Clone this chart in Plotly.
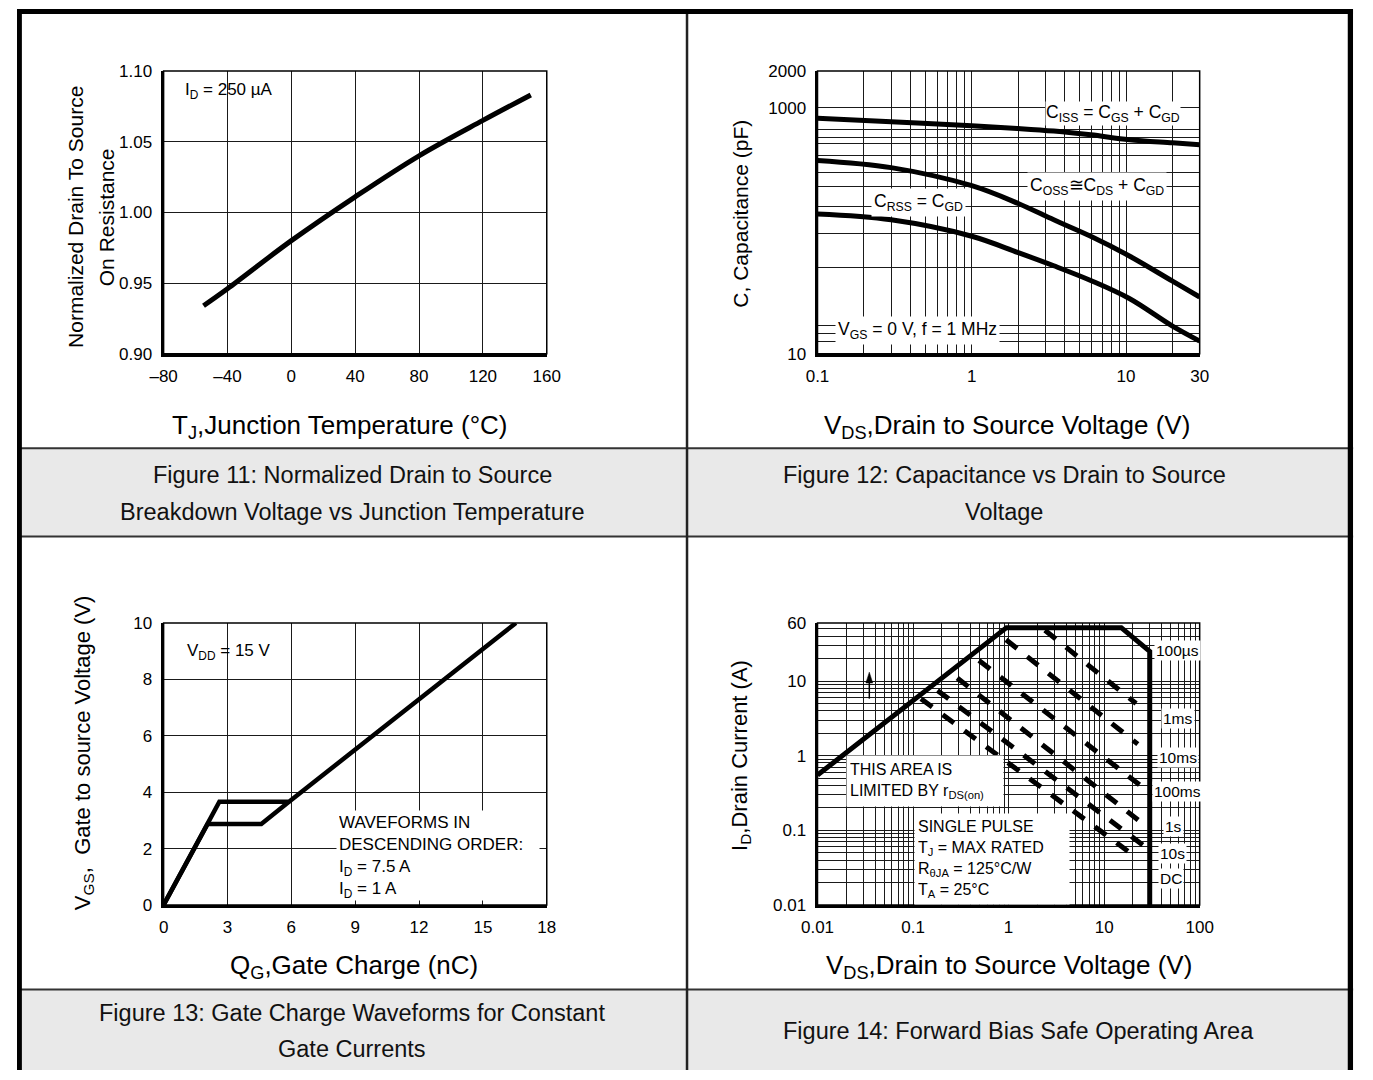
import math
import plotly.graph_objects as go

W, H = 1373, 1080
FONT = "Liberation Sans, Arial, Helvetica, sans-serif"

# ---------------- Figure 11 : normalized BV vs Tj ----------------
tj_c = [-55, -40, 0, 40, 80, 120, 150]
bv_norm = [0.934, 0.946, 0.980, 1.011, 1.040, 1.065, 1.083]
f11_xticks = [-80, -40, 0, 40, 80, 120, 160]
f11_xlabels = ["–80", "–40", "0", "40", "80", "120", "160"]
f11_yticks = [0.90, 0.95, 1.00, 1.05, 1.10]
f11_ylabels = ["0.90", "0.95", "1.00", "1.05", "1.10"]

# ---------------- Figure 12 : capacitance vs Vds ----------------
vds_cap = [0.1, 0.3, 1.0, 2.0, 3.4, 5.9, 10.5, 20, 30]
c_iss = [822, 771, 716, 680, 648, 604, 551, 520, 502]
c_oss = [374, 327, 233, 167, 123, 90.4, 62.5, 39, 29]
c_rss = [137, 123, 90.4, 66.5, 52, 39.5, 28.2, 16.8, 12.7]
f12_xticks = [0.1, 1, 10, 30]
f12_xlabels = ["0.1", "1", "10", "30"]
f12_xgrid = [0.2, 0.3, 0.4, 0.5, 0.6, 0.7, 0.8, 0.9, 2, 3, 4, 5, 6, 7, 8, 9, 20]
f12_yticks = [10, 1000, 2000]
f12_ylabels = ["10", "1000", "2000"]
f12_ygrid = [12.6, 14.7, 17, 50, 95, 158, 228, 296, 408, 515, 575, 666]

# ---------------- Figure 13 : gate charge ----------------
qg_7p5a = [0, 2.62, 5.89, 16.55]
vgs_7p5a = [0, 3.66, 3.66, 10]
qg_1a = [0, 2.07, 4.59, 5.89]
vgs_1a = [0, 2.87, 2.87, 3.66]
f13_xticks = [0, 3, 6, 9, 12, 15, 18]
f13_xlabels = ["0", "3", "6", "9", "12", "15", "18"]
f13_yticks = [0, 2, 4, 6, 8, 10]
f13_ylabels = ["0", "2", "4", "6", "8", "10"]

# ---------------- Figure 14 : SOA ----------------
soa_vds = [0.01, 0.95, 15.1, 30, 30]
soa_id = [0.55, 52, 52, 25, 0.01]
pulse_names = ["100µs", "1ms", "10ms", "100ms", "1s", "10s"]
pulse_v_start = [2.4, 0.94, 0.49, 0.29, 0.18, 0.121]
pulse_i_start = [48, 35.7, 18.9, 11, 7.5, 5.8]
pulse_v_end = [21.6, 22.5, 27.4, 26, 27.4, 22.5]
pulse_i_end = [5.0, 1.43, 0.35, 0.12, 0.059, 0.042]
soa_right_labels = ["100µs", "1ms", "10ms", "100ms", "1s", "10s", "DC"]
f14_xticks = [0.01, 0.1, 1, 10, 100]
f14_xlabels = ["0.01", "0.1", "1", "10", "100"]
f14_yticks = [0.01, 0.1, 1, 10, 60]
f14_ylabels = ["0.01", "0.1", "1", "10", "60"]


def log_minor(lo_exp, hi_exp, vmax, major):
    out = []
    for e in range(lo_exp, hi_exp):
        for m in range(2, 10):
            v = m * 10 ** e
            if v > vmax * 1.0001:
                continue
            if any(abs(v - lv) / lv < 1e-6 for lv in major):
                continue
            out.append(v)
    return out


f14_xgrid = log_minor(-2, 2, 100, f14_xticks)
f14_ygrid = log_minor(-2, 2, 60, f14_yticks)


def px(x):
    return x / W


def py(y):
    return 1 - y / H


fig = go.Figure()

BLACK = "black"
# Fig 11
fig.add_trace(go.Scatter(x=tj_c, y=bv_norm, mode="lines", line=dict(color=BLACK, width=5, shape="spline"),
                         xaxis="x", yaxis="y", showlegend=False, hoverinfo="skip"))
# Fig 12
for c in (c_iss, c_oss, c_rss):
    fig.add_trace(go.Scatter(x=vds_cap, y=c, mode="lines", line=dict(color=BLACK, width=5, shape="spline"),
                             xaxis="x2", yaxis="y2", showlegend=False, hoverinfo="skip"))
# Fig 13
fig.add_trace(go.Scatter(x=qg_7p5a, y=vgs_7p5a, mode="lines", line=dict(color=BLACK, width=4.5),
                         xaxis="x3", yaxis="y3", showlegend=False, hoverinfo="skip"))
fig.add_trace(go.Scatter(x=qg_1a, y=vgs_1a, mode="lines", line=dict(color=BLACK, width=4.5),
                         xaxis="x3", yaxis="y3", showlegend=False, hoverinfo="skip"))
# Fig 14
for i in range(len(pulse_names)):
    fig.add_trace(go.Scatter(x=[pulse_v_start[i], pulse_v_end[i]], y=[pulse_i_start[i], pulse_i_end[i]],
                             mode="lines", line=dict(color=BLACK, width=5, dash="14px,13px"),
                             xaxis="x4", yaxis="y4", showlegend=False, hoverinfo="skip", name=pulse_names[i]))
fig.add_trace(go.Scatter(x=soa_vds, y=soa_id, mode="lines", line=dict(color=BLACK, width=5),
                         xaxis="x4", yaxis="y4", showlegend=False, hoverinfo="skip"))

tickfont = dict(family=FONT, size=17, color=BLACK)
GRID = "#1a1a1a"


def ax(domain, anchor, minor_vals=None, **kw):
    d = dict(domain=domain, anchor=anchor, showgrid=True, gridcolor=GRID, gridwidth=1,
             showline=True, linecolor=BLACK, linewidth=3, ticks="", tickfont=tickfont,
             zeroline=False, fixedrange=True, tickmode="array", ticklabelstandoff=5)
    if minor_vals:
        d["minor"] = dict(tickmode="array", tickvals=minor_vals, showgrid=True, gridcolor=GRID,
                          gridwidth=1, ticks="")
    d.update(kw)
    return d


dxL = [px(150), px(542)]
dxR = [px(819), px(1210)]
dyT = [py(351), py(63)]
dyB = [py(912), py(625)]

fig.update_layout(
    width=W, height=H, autosize=False,
    margin=dict(l=0, r=0, t=0, b=0),
    paper_bgcolor="white", plot_bgcolor="white",
    font=dict(family=FONT, color=BLACK),
    xaxis=ax(dxL, "y", range=[-80, 160], tickvals=f11_xticks, ticktext=f11_xlabels),
    yaxis=ax(dyT, "x", range=[0.90, 1.10], tickvals=f11_yticks, ticktext=f11_ylabels),
    xaxis2=ax(dxR, "y2", f12_xgrid, type="log", range=[-1, math.log10(30)],
              tickvals=f12_xticks, ticktext=f12_xlabels),
    yaxis2=ax(dyT, "x2", f12_ygrid, type="log", range=[1, math.log10(2000)],
              tickvals=f12_yticks, ticktext=f12_ylabels),
    xaxis3=ax(dxL, "y3", range=[0, 18], tickvals=f13_xticks, ticktext=f13_xlabels),
    yaxis3=ax(dyB, "x3", range=[0, 10], tickvals=f13_yticks, ticktext=f13_ylabels),
    xaxis4=ax(dxR, "y4", f14_xgrid, type="log", range=[-2, 2], tickvals=f14_xticks, ticktext=f14_xlabels),
    yaxis4=ax(dyB, "x4", f14_ygrid, type="log", range=[-2, math.log10(60)],
              tickvals=f14_yticks, ticktext=f14_ylabels),
)

shapes = []
# plot frames (thin top/right)
for xr, yr in (("x", "y"), ("x2", "y2"), ("x3", "y3"), ("x4", "y4")):
    shapes.append(dict(type="rect", xref=xr + " domain", yref=yr + " domain", x0=0, x1=1, y0=0, y1=1,
                       line=dict(color=BLACK, width=1.5), layer="above"))
# caption boxes
for y0, y1 in ((447, 537), (998, 1080)):
    shapes.append(dict(type="rect", xref="paper", yref="paper", x0=px(0), x1=px(1373), y0=py(y1), y1=py(y0),
                       fillcolor="#e9e9e9", line=dict(width=0), layer="below"))
for yy in (447, 537, 998):
    shapes.append(dict(type="line", xref="paper", yref="paper", x0=0, x1=1, y0=py(yy), y1=py(yy),
                       line=dict(color="#333", width=2)))
shapes.append(dict(type="line", xref="paper", yref="paper", x0=px(685.5), x1=px(685.5), y0=0, y1=1,
                   line=dict(color="#222", width=2.5)))
# outer border
shapes.append(dict(type="rect", xref="paper", yref="paper", x0=0, x1=px(5), y0=0, y1=1,
                   fillcolor=BLACK, line=dict(width=0)))
shapes.append(dict(type="rect", xref="paper", yref="paper", x0=0, x1=px(1367), y0=py(5), y1=1,
                   fillcolor=BLACK, line=dict(width=0)))
shapes.append(dict(type="rect", xref="paper", yref="paper", x0=px(1361.5), x1=px(1367), y0=0, y1=1,
                   fillcolor=BLACK, line=dict(width=0)))
shapes.append(dict(type="rect", xref="paper", yref="paper", x0=px(1367), x1=1, y0=0, y1=1,
                   fillcolor="white", line=dict(width=0)))
# small upward arrow in the SOA chart
shapes.append(dict(type="line", xref="paper", yref="paper", x0=px(872), x1=px(872), y0=py(702), y1=py(684),
                   line=dict(color=BLACK, width=1.5)))
shapes.append(dict(type="path", xref="paper", yref="paper",
                   path=f"M {px(868.5)},{py(686)} L {px(875.5)},{py(686)} L {px(872)},{py(675)} Z",
                   fillcolor=BLACK, line=dict(color=BLACK, width=0.5)))
fig.update_layout(shapes=shapes)

ann = []


def text(x, y, s, size=16, xanchor="center", yanchor="middle", angle=0, **kw):
    d = dict(x=px(x), y=py(y), xref="paper", yref="paper", text=s, showarrow=False,
             font=dict(family=FONT, size=size, color=kw.pop("color", BLACK)),
             xanchor=xanchor, yanchor=yanchor, textangle=angle)
    d.update(kw)
    ann.append(d)


# captions
CAP = 23.5
text(343, 474, "Figure 11: Normalized Drain to Source", CAP, color="#111")
text(343, 512, "Breakdown Voltage vs Junction Temperature", CAP, color="#111")
text(1010, 474, "Figure 12: Capacitance vs Drain to Source", CAP, color="#111")
text(1010, 512, "Voltage", CAP, color="#111")
text(343, 1022, "Figure 13: Gate Charge Waveforms for Constant", CAP, color="#111")
text(343, 1059, "Gate Currents", CAP, color="#111")
text(1025, 1040, "Figure 14: Forward Bias Safe Operating Area", CAP, color="#111")

# axis titles
text(60, 212, "Normalized Drain To Source", 21, angle=-90)
text(91, 212, "On Resistance", 21, angle=-90)
text(330, 425, "T<sub>J</sub>,Junction Temperature (°C)", 26)
text(740, 208, "C, Capacitance (pF)", 21, angle=-90)
text(1013, 425, "V<sub>DS</sub>,Drain to Source Voltage (V)", 26)
text(68, 757, "V<sub>GS</sub>,  Gate to source Voltage (V)", 22, angle=-90)
text(345, 975, "Q<sub>G</sub>,Gate Charge (nC)", 26)
text(740, 760, "I<sub>D</sub>,Drain Current (A)", 22, angle=-90)
text(1015, 975, "V<sub>DS</sub>,Drain to Source Voltage (V)", 26)

# in-plot notes
text(170, 83, "I<sub>D</sub> = 250 µA", 17, xanchor="left")
text(1121, 106, "C<sub>ISS</sub> = C<sub>GS</sub> + C<sub>GD</sub>", 17.5, bgcolor="white", borderpad=0)
text(1105, 181, "C<sub>OSS</sub>≅C<sub>DS</sub> + C<sub>GD</sub>", 17.5, bgcolor="white", borderpad=2)
text(922, 197, "C<sub>RSS</sub> = C<sub>GD</sub>", 17.5, bgcolor="white", borderpad=2)
text(921, 327, "V<sub>GS</sub> = 0 V, f = 1 MHz", 17.5, bgcolor="white", borderpad=2)

text(172, 655, "V<sub>DD</sub> = 15 V", 17, xanchor="left")
text(326, 815, "WAVEFORMS IN<br>DESCENDING ORDER:<br>I<sub>D</sub> = 7.5 A<br>I<sub>D</sub> = 1 A", 17,
     xanchor="left", yanchor="top", align="left", bgcolor="white", borderpad=2, width=198, height=85,
     valign="top")

text(848, 759, "THIS AREA IS<br>LIMITED BY r<sub>DS(on)</sub>", 16, xanchor="left", yanchor="top",
     align="left", bgcolor="white", borderpad=3, width=150, height=44, valign="middle")
text(918, 818, "SINGLE PULSE<br>T<sub>J</sub> = MAX RATED<br>R<sub>θJA</sub> = 125°C/W<br>T<sub>A</sub> = 25°C", 16,
     xanchor="left", yanchor="top", align="left", bgcolor="white", borderpad=3, width=148, height=84,
     valign="middle")

label_pos = [(1187, 653), (1188, 722), (1188, 762), (1187, 797), (1183, 832), (1182, 860), (1181, 885)]
for lab, (lx, ly) in zip(soa_right_labels, label_pos):
    text(lx, ly, lab, 15.5, bgcolor="white", borderpad=1)

fig.update_layout(annotations=ann)

fig.write_html("out.html", config={"displayModeBar": False},
               post_script="document.body.style.margin='0';document.body.style.overflow='hidden';")
